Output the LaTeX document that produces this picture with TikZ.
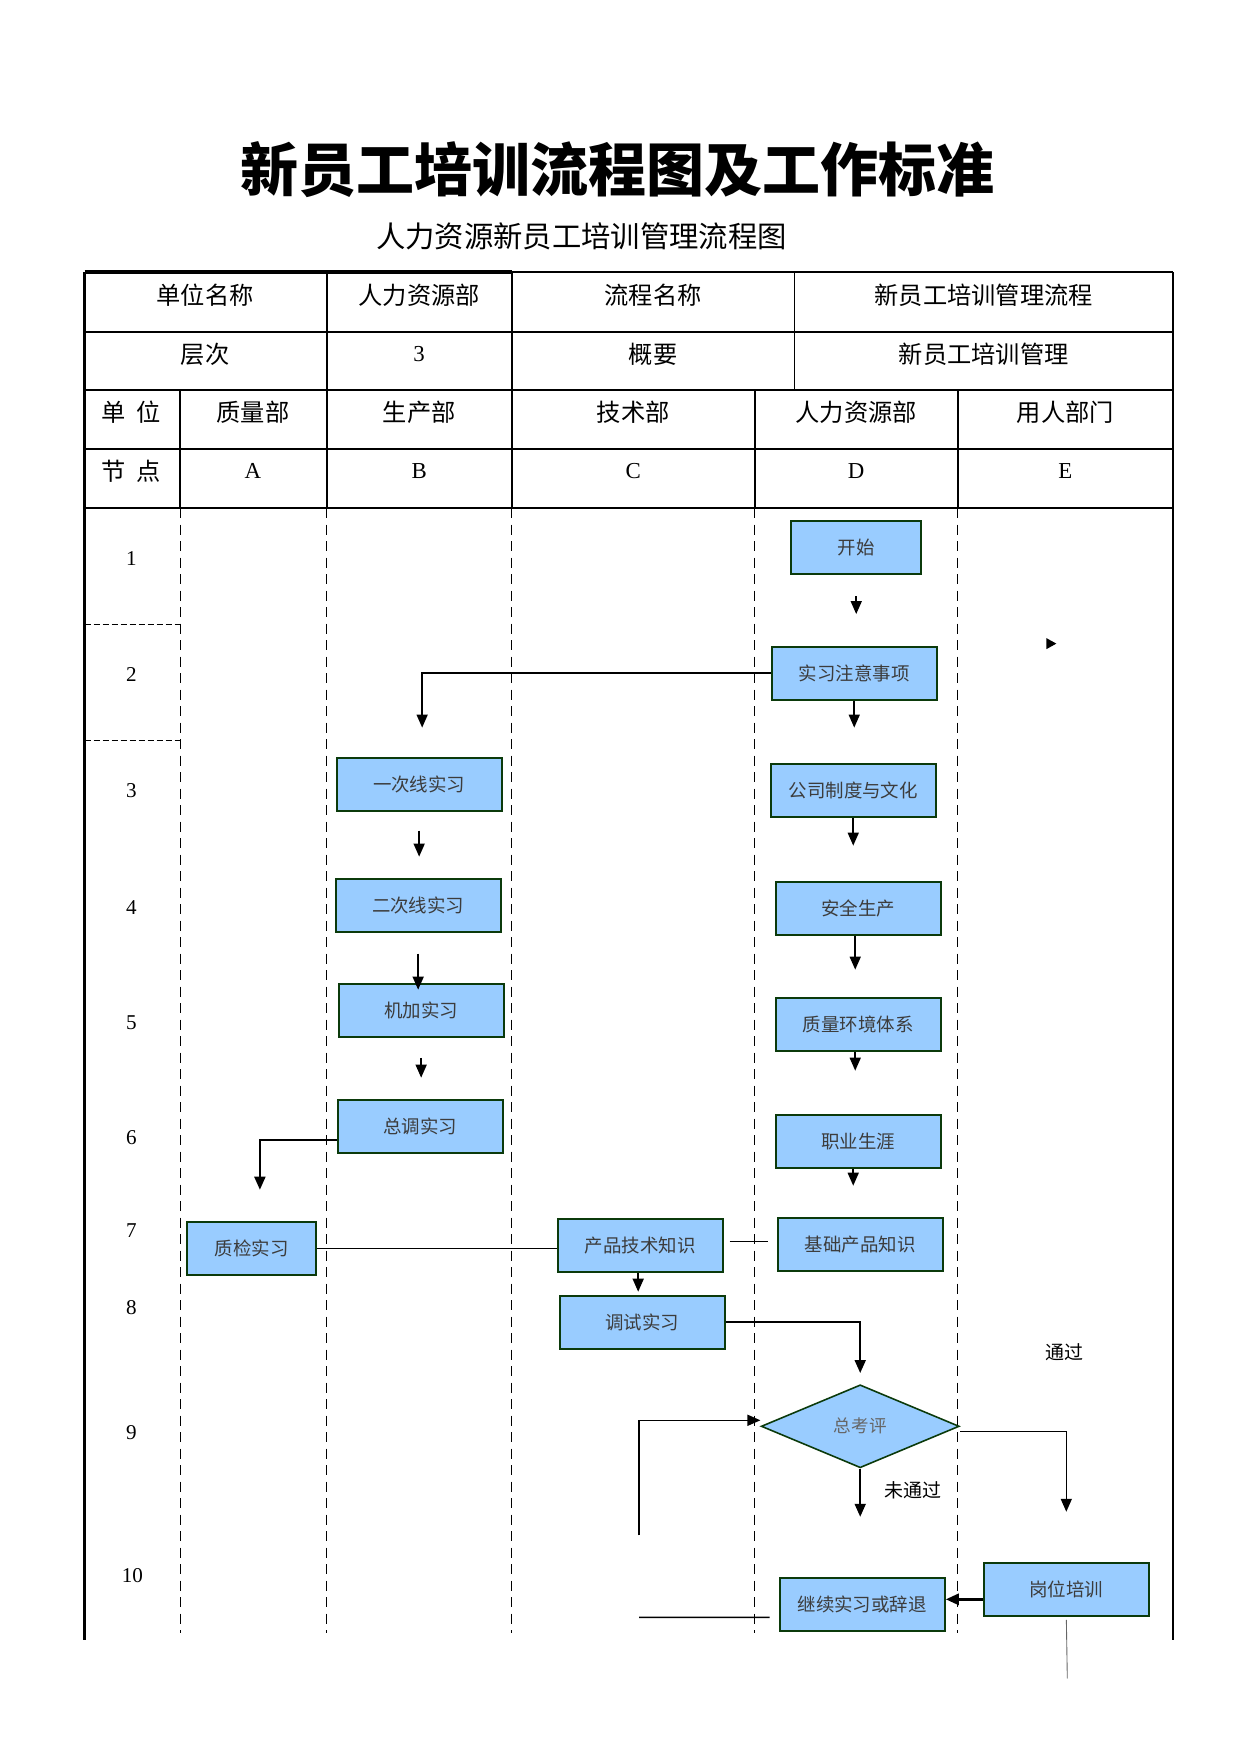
\documentclass[tikz,border=0pt]{standalone}
\usepackage{fontspec}
\setmainfont{Liberation Serif}
\newfontfamily\cjk{Noto Sans CJK SC}
\usetikzlibrary{shapes.geometric,arrows.meta}
\definecolor{boxfill}{HTML}{99CCFF}
\definecolor{boxline}{HTML}{0B3A0B}
\definecolor{boxtext}{HTML}{3C3C3C}
\begin{document}
\begin{tikzpicture}[x=0.01992cm,y=-0.02cm,
  box/.style={draw=boxline, fill=boxfill, line width=1.2pt, minimum width=3.3cm, minimum height=1.06cm, inner sep=0pt, font=\cjk\fontsize{10.5}{12}\selectfont, text=boxtext},
  arr/.style={-{Triangle[width=0.22cm,length=0.26cm]}, line width=0.9pt},
  ln/.style={line width=0.8pt},
  hdr/.style={font=\cjk\fontsize{13.8}{16}\selectfont},
  lat/.style={font=\fontsize{13}{15}\selectfont},
  num/.style={font=\fontsize{12}{14}\selectfont},
  lane/.style={dash pattern=on 0.2cm off 0.13cm, line width=0.6pt},
  tbl/.style={line width=1.1pt},
  lbl/.style={font=\cjk\fontsize{10.8}{12}\selectfont}]
\useasboundingbox (0cm,0cm) rectangle (24.82cm,-35.08cm);

% titles
\node[font=\cjk\bfseries\fontsize{33}{36}\selectfont] (title) at (620,170) {新员工培训流程图及工作标准};
\node[font=\cjk\fontsize{16.7}{18}\selectfont] (subtitle) at (584,236) {人力资源新员工培训管理流程图};

% table frame
\draw[line width=1.8pt] (85,272) -- (514,272);
\draw[tbl] (514,272) -- (1178,272);
\draw[line width=1.3pt] (85,272) -- (85,1640);
\draw[line width=1.3pt] (1178,272) -- (1178,1640);
\foreach \yy in {332,390,449,508} \draw[tbl] (85,\yy) -- (1178,\yy);
\foreach \xx in {328,514,798} \draw[tbl] (\xx,272) -- (\xx,390);
\foreach \xx in {181,328,514,758,962} \draw[tbl] (\xx,390) -- (\xx,508);
\foreach \xx in {181,328,514,758,962} \draw[lane] (\xx,508) -- (\xx,1633);
\draw[dash pattern=on 0.12cm off 0.06cm, line width=0.6pt] (85,624) -- (181,624);
\draw[dash pattern=on 0.12cm off 0.06cm, line width=0.6pt] (85,740) -- (181,740);

% header texts
\node[hdr] (h11) at (206,295) {单位名称};
\node[hdr] (h12) at (421,295) {人力资源部};
\node[hdr] (h13) at (656,295) {流程名称};
\node[hdr] (h14) at (988,295) {新员工培训管理流程};
\node[hdr] (h21) at (206,354) {层次};
\node[lat] (h22) at (421,354) {3};
\node[hdr] (h23) at (656,354) {概要};
\node[hdr] (h24) at (988,354) {新员工培训管理};
\node[hdr] (h31) at (132,412) {单\ \ 位};
\node[hdr] (h32) at (254,412) {质量部};
\node[hdr] (h33) at (421,412) {生产部};
\node[hdr] (h34) at (636,412) {技术部};
\node[hdr] (h35) at (860,412) {人力资源部};
\node[hdr] (h36) at (1070,412) {用人部门};
\node[hdr] (h41) at (132,471) {节\ \ 点};
\node[lat] (h42) at (254,471) {A};
\node[lat] (h43) at (421,471) {B};
\node[lat] (h44) at (636,471) {C};
\node[lat] (h45) at (860,471) {D};
\node[lat] (h46) at (1070,471) {E};

% row numbers
\node[num] (r1) at (132,558) {1};
\node[num] (r2) at (132,674) {2};
\node[num] (r3) at (132,790) {3};
\node[num] (r4) at (132,907) {4};
\node[num] (r5) at (132,1022) {5};
\node[num] (r6) at (132,1137) {6};
\node[num] (r7) at (132,1230) {7};
\node[num] (r8) at (132,1307) {8};
\node[num] (r9) at (132,1432) {9};
\node[num] (r10) at (133,1575) {10};

% boxes
\node[box, minimum width=2.6cm] (start) at (860,547) {开始};
\node[box] (notes) at (858,673) {实习注意事项};
\node[box] (b1) at (421,784) {一次线实习};
\node[box] (hr2) at (857,790) {公司制度与文化};
\node[box] (b2) at (420,905) {二次线实习};
\node[box] (hr3) at (862,908) {安全生产};
\node[box] (b3) at (423,1010) {机加实习};
\node[box] (hr4) at (862,1024) {质量环境体系};
\node[box] (b4) at (422,1126) {总调实习};
\node[box] (hr5) at (862,1141) {职业生涯};
\node[box] (hr6) at (864,1244) {基础产品知识};
\node[box] (c1) at (643,1245) {产品技术知识};
\node[box, minimum width=2.58cm] (a1) at (253,1248) {质检实习};
\node[box] (c2) at (645,1322) {调试实习};
\node[diamond, draw=boxline, fill=boxfill, line width=0.9pt, minimum width=3.96cm, minimum height=1.66cm, inner sep=0pt, font=\cjk\fontsize{10}{12}\selectfont, text=black!60] (dia) at (864,1426) {总考评};
\node[box] (e1) at (1071,1589) {岗位培训};
\node[box] (d7) at (866,1604) {继续实习或辞退};

% connectors
\draw[arr, shorten <=0.43cm, shorten >=0.63cm] (start.south) -- (start.south |- notes.north);
\draw[arr, shorten >=0.58cm] (notes.west) -| ([xshift=0.06cm]b1.north);
\draw[arr, shorten >=0.7cm] (notes.south) -- (notes.south |- hr2.north);
\draw[arr, shorten <=0.38cm, shorten >=0.42cm] (b1.south) -- (b1.south |- b2.north);
\draw[arr, shorten >=0.7cm] (hr2.south) -- (hr2.south |- hr3.north);
\draw[arr, shorten <=0.42cm, shorten >=-0.14cm] (b2.south) -- (b2.south |- b3.north);
\draw[arr, shorten >=0.54cm] ([xshift=-0.06cm]hr3.south) -- ([xshift=-0.06cm]hr3.south |- hr4.north);
\draw[arr, shorten <=0.4cm, shorten >=0.42cm] (b3.south) -- (b3.south |- b4.north);
\draw[arr, shorten >=0.86cm] ([xshift=-0.06cm]hr4.south) -- ([xshift=-0.06cm]hr4.south |- hr5.north);
\draw[arr, line width=1.1pt, shorten >=0.62cm] ([yshift=-0.28cm]b4.west) -| ([xshift=0.16cm]a1.north);
\draw[arr, shorten >=0.62cm] ([xshift=-0.1cm]hr5.south) -- ([xshift=-0.1cm]hr5.south |- hr6.north);
\draw[ln, shorten <=0.12cm, shorten >=0.18cm] ([yshift=0.08cm]c1.east) -- ([yshift=0.06cm]hr6.west);
\draw[ln] (a1.east) -- (a1.east -| c1.west);
\draw[arr, shorten >=0.06cm] ([xshift=-0.04cm]c1.south) -- ([xshift=-0.04cm]c1.south |- c2.north);
\draw[arr, line width=1.2pt, shorten >=0.22cm] (c2.east) -| (dia.north);
\draw[arr, line width=1.1pt, shorten >=1.2cm] (dia.south) -- (dia.south |- d7.north);
\draw[arr, shorten >=1cm] ([yshift=-0.1cm]dia.east) -| (e1.north);
\draw[arr, line width=1.6pt] ([yshift=-0.2cm]e1.west) -- ([yshift=-0.2cm]e1.west -| d7.east);
\coordinate (loopA) at (642,1617);
\coordinate (loopB) at (642,1535);
\coordinate (tail) at (1072,1678);
\draw[ln, shorten <=0.18cm] ([yshift=-0.26cm]d7.west) -- (loopA);
\draw[arr] (loopB) |- ([yshift=0.12cm]dia.west);
\draw[line width=0.5pt, black!60, shorten <=0.06cm] (e1.south) -- (tail);

% lone arrow head
\fill (1051,638) -- (1061,643.5) -- (1051,649) -- cycle;

% labels
\node[lbl] (pass) at (1069,1352) {通过};
\node[lbl] (fail) at (917,1490) {未通过};
\end{tikzpicture}
\end{document}
